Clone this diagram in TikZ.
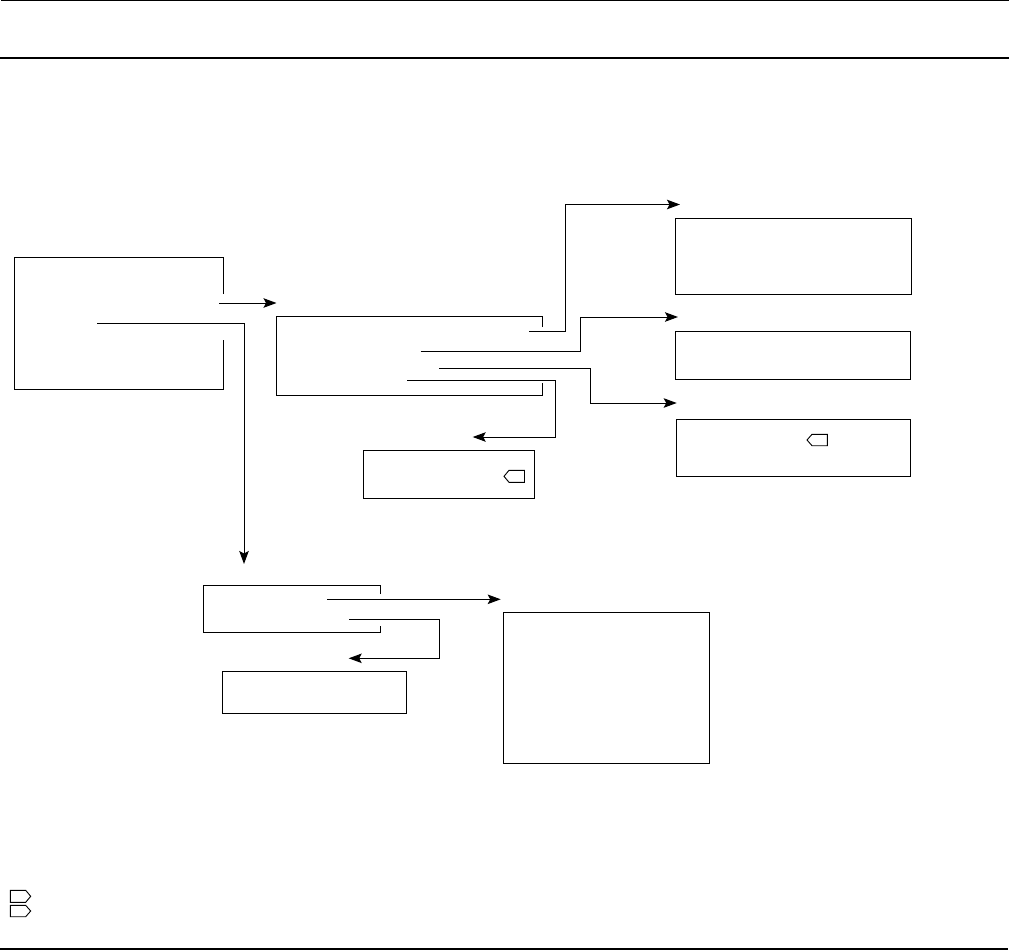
\documentclass[tikz,border=0pt]{standalone}
\usetikzlibrary{arrows.meta}
\tikzset{
  x=1pt,y=-1pt,
  ln/.style={line width=1pt,black},
  boxnode/.style={draw=black,line width=1pt,inset sep,anchor=north west},
  inset sep/.style={inner sep=0pt,outer sep=0pt},
  conn/.style={ln,-{Stealth[length=13pt,width=9.5pt,inset=2.5pt]}},
  rulehair/.style={line width=1.2pt,black},
  rulethick/.style={line width=2.2pt,black},
  tag/.style={line width=0.9pt,black,line join=miter,fill=white}
}
\newcommand{\bx}[5]{% name, x0,y0,x1,y1
  \pgfmathsetlengthmacro{\bxw}{#4-#2}\pgfmathsetlengthmacro{\bxh}{#5-#3}
  \node[boxnode,minimum width=\bxw,minimum height=\bxh] (#1) at (#2,#3) {};}
\newcommand{\ltag}[5]{% name, x0,y0,x1,y1 pointing left
  \draw[tag] (#2+5,#3) -- (#4,#3) -- (#4,#5) -- (#2+5,#5) -- (#2,#3/2+#5/2) -- cycle;
  \coordinate (#1) at (#2,#3/2+#5/2);}
\newcommand{\rtag}[5]{%
  \draw[tag] (#2,#3) -- (#4-5,#3) -- (#4,#3/2+#5/2) -- (#4-5,#5) -- (#2,#5) -- cycle;
  \coordinate (#1) at (#4,#3/2+#5/2);}
\begin{document}
\begin{tikzpicture}
\useasboundingbox (0,0) rectangle (1009,950);
% page rules
\draw[rulehair] (1,0.4) -- (1009,0.4);
\draw[rulethick] (0,57.8) -- (1009,57.8);
\draw[rulethick] (0,948.9) -- (1008,948.9);
% closed boxes
\bx{rone}{675.7}{218.7}{911}{294}
\bx{rtwo}{675.5}{331.3}{910.3}{379.3}
\bx{rthree}{676.3}{419.3}{910.3}{476}
\bx{small}{363.5}{450}{534.5}{498.7}
\bx{low}{222.3}{671.3}{406.7}{713.3}
\bx{big}{503.3}{612}{709.5}{763}
% open boxes
\coordinate (aa) at (223,294);
\coordinate (ab) at (223,340);
\draw[ln] (aa) -- (223,257.5) -- (14.5,257.5) -- (14.5,389) -- (223,389) -- (ab);
\coordinate (ba) at (542,327);
\coordinate (bb) at (542,383);
\draw[ln] (ba) -- (542,316) -- (276,316) -- (276,395) -- (542,395) -- (bb);
\coordinate (ca) at (380.3,594);
\coordinate (cb) at (380.3,626);
\draw[ln] (ca) -- (380.3,585.3) -- (203.3,585.3) -- (203.3,632.3) -- (380.3,632.3) -- (cb);
% connector ends
\coordinate (s1) at (219,303);   \coordinate (t1) at (276.5,303);
\coordinate (s2) at (97,323.7);  \coordinate (t2) at (244,564);
\coordinate (s3) at (529,331.5); \coordinate (t3) at (680,204.5);
\coordinate (s4) at (420.7,351); \coordinate (t4) at (678,317);
\coordinate (s5) at (439,368.5); \coordinate (t5) at (676.7,403);
\coordinate (s6) at (407,380);   \coordinate (t6) at (472.7,437);
\coordinate (s7) at (327,599.3); \coordinate (t7) at (500.7,599.3);
\coordinate (s8) at (349.3,619); \coordinate (t8) at (348.7,658.3);
% connectors
\draw[conn] (s1) -- (t1);
\draw[conn] (s2) -| (t2);
\draw[conn] (s3) -- (565,331.5) |- (t3);
\draw[conn] (s4) -- (580.7,351) |- (t4);
\draw[conn] (s5) -- (590,368.5) |- (t5);
\draw[conn] (s6) -- (555,380) |- (t6);
\draw[conn] (s7) -- (t7);
\draw[conn] (s8) -- (439.3,619) |- (t8);
% tags
\ltag{tagsmall}{504}{470.3}{524.5}{482.3}
\ltag{tagright}{807}{434.3}{827.3}{445.7}
\rtag{tagone}{10.3}{890.3}{30.7}{902.3}
\rtag{tagtwo}{10.3}{905.3}{30.7}{916.7}
\end{tikzpicture}
\end{document}
